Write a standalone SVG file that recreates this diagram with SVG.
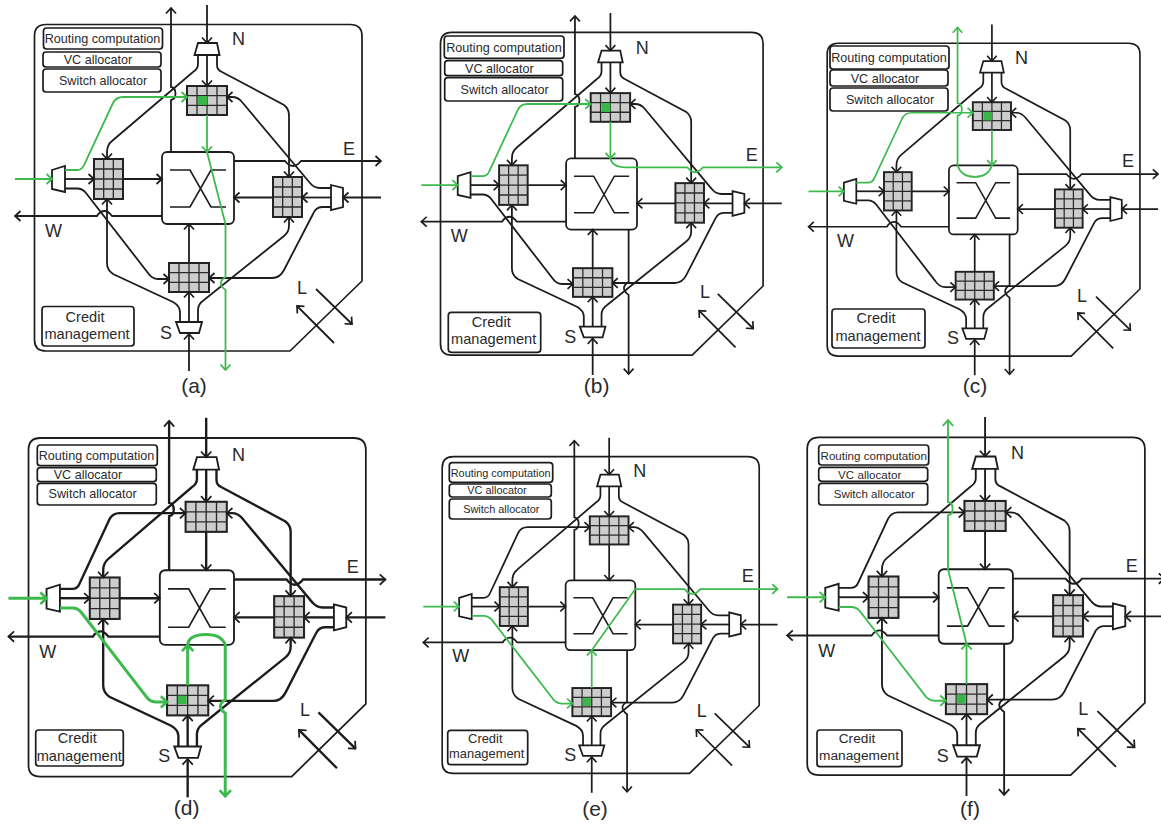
<svg xmlns="http://www.w3.org/2000/svg" width="1161" height="824" viewBox="0 0 1161 824">
<style>
text{font-family:"Liberation Sans",Arial,sans-serif;fill:#2a2a2a}
.box{fill:#fff;stroke:#1c1c1c;stroke-width:1.7}
.frame{fill:none;stroke:#1c1c1c;stroke-width:1.7}
.mux{fill:#fff;stroke:#1c1c1c;stroke-width:1.8}
.xb{fill:#fff;stroke:#1c1c1c;stroke-width:1.8}
.xl{fill:none;stroke:#1c1c1c;stroke-width:1.6}
.cell{fill:#cdcdcd;stroke:#222;stroke-width:2}
.cl{fill:none;stroke:#2a2a2a;stroke-width:1.3}
.dot{fill:#39b54a}
.links{fill:none}
.k{stroke:#1c1c1c;marker-end:url(#ak)}
.g{stroke:#3dba4e;marker-end:url(#ag)}
.links{stroke-width:1.8}
.thick .frame,.thick .mux,.thick .xb{stroke-width:2.2}
.thick .cell{stroke-width:2.4}
.thick .links{stroke-width:2.3}
.thick .g{stroke-width:2.9;marker-end:url(#agd)}
.rc{font-size:12.6px;text-anchor:middle}
.cr{font-size:14.6px;text-anchor:middle}
.rcs{font-size:10.9px;text-anchor:middle}
.crs{font-size:12.9px;text-anchor:middle}
.rcf{font-size:11.6px;text-anchor:middle}
.crf{font-size:13.7px;text-anchor:middle}
.dir{font-size:18px}
.cap{font-size:21px;text-anchor:middle}
</style>
<defs>
<marker id="ak" viewBox="-7 -6.5 10 13" refX="0" refY="0" markerWidth="10" markerHeight="13" markerUnits="userSpaceOnUse" orient="auto"><path d="M-5.5,-5 L0,0 L-5.5,5" fill="none" stroke="#1c1c1c" stroke-width="1.7"/></marker>
<marker id="ag" viewBox="-7 -6.5 10 13" refX="0" refY="0" markerWidth="10" markerHeight="13" markerUnits="userSpaceOnUse" orient="auto"><path d="M-5.5,-5 L0,0 L-5.5,5" fill="none" stroke="#3dba4e" stroke-width="1.8"/></marker>
<marker id="agd" viewBox="-8 -7 12 14" refX="0" refY="0" markerWidth="12" markerHeight="14" markerUnits="userSpaceOnUse" orient="auto"><path d="M-6,-5.5 L0,0 L-6,5.5" fill="none" stroke="#3dba4e" stroke-width="2.6"/></marker>
<path id="s-frame" class="frame" d="M46,24.5 H350 Q362,24.5 362,36 V281 L290,351 H46 Q34.5,351 34.5,340 V36 Q34.5,24.5 46,24.5 Z"/>
<path id="s-mux-n" class="mux" d="M198,43 H217 L219.5,55 H194.5 Z"/>
<path id="s-mux-s" class="mux" d="M176,322 H202 L199,333 H180 Z"/>
<path id="s-mux-w" class="mux" d="M52,170 L65,166 V192 L52,189 Z"/>
<path id="s-mux-e" class="mux" d="M331,185 L343,188 V207 L331,210 Z"/>
<g id="s-grid-h"><rect class="cell" width="40" height="29"/><path class="cl" d="M10,0V29M20,0V29M30,0V29M0,9.67H40M0,19.33H40"/></g>
<g id="s-grid-v"><rect class="cell" width="29" height="40"/><path class="cl" d="M9.67,0V40M19.33,0V40M0,10H29M0,20H29M0,30H29"/></g>
<g id="s-xbar"><rect class="xb" x="162" y="152" width="72" height="72" rx="5"/><path class="xl" d="M170,170 H190 L211,207 H226 M170,207 H190 L211,170 H226"/></g>
<g id="links-common">
<path d="M65,179 H94"/><path d="M123,179 H162"/><path d="M331,197.5 H302"/><path d="M273,197.5 H234"/>
<path d="M189,322 V292"/><path d="M207,55 V86"/>
<path d="M207,5 V43"/><path d="M189,371 V334"/><path d="M381,197.5 H343"/>
<path d="M198,55 V64 Q198,69 193,72 L112,141 Q107,145 107,152 V159"/>
<path d="M217,55 V65 Q217,70 222,72 L284,105 Q289,109 289,115 V177"/>
<path d="M331,188 H320 Q314,188 310,183 L242,102 Q238,97 232,97 H227"/>
<path d="M331,207 H322 Q316,207 313,214 L284,270 Q280,278 272,278 H209"/>
<path d="M180,322 V312 Q180,306 173,302 L113,274 Q107,270 107,263 V199"/>
<path d="M198,322 V310 Q198,304 204,300 L284,236 Q289,232 289,226 V217"/>
<path d="M162,216 H112 Q108,211 105,211 Q100,211 97,216 H15"/>
<path d="M316,289 L352,324"/><path d="M334,343 L297,306"/>
</g>
<path id="p-win" d="M15,179 H52"/>
<path id="p-wtop" d="M65,170 H77 Q82,170 84,165 L113,103 Q116,97 123,97 H187"/>
<path id="p-wbot" d="M65,188.5 H78 Q83,189 86,193 L148,273 Q152,279 158,279 H169"/>
<path id="p-ngx" d="M207,115 V152"/>
<path id="p-sgx" d="M189,263 V224"/>
<path id="p-up" d="M171,152 V100 C177,99 177,88 171,87 V8"/>
<path id="p-sout" d="M225.5,224 V277 Q216,283 225.5,290 V370"/>
<path id="p-eout" d="M234,161 H285 Q289,166 293,166 Q297,166 301,161 H381"/>
</defs>
<rect width="1161" height="824" fill="#fff"/>

<g id="panel-a">
<g id="a-router">
<g id="a-frame"><use href="#s-frame"/></g>
<g id="a-mux-n"><use href="#s-mux-n"/></g><g id="a-mux-s"><use href="#s-mux-s"/></g><g id="a-mux-w"><use href="#s-mux-w"/></g><g id="a-mux-e"><use href="#s-mux-e"/></g>
<g id="a-grid-n"><use href="#s-grid-h" x="187" y="86"/><rect class="dot" x="198" y="96" width="9" height="9"/></g>
<g id="a-grid-s"><use href="#s-grid-h" x="169" y="263"/></g>
<g id="a-grid-w"><use href="#s-grid-v" x="94" y="159"/></g>
<g id="a-grid-e"><use href="#s-grid-v" x="273" y="177"/></g>
<g id="a-crossbar"><use href="#s-xbar"/></g>
<g id="a-connectors" class="links">
<use href="#links-common" class="k"/>
<use href="#p-wbot" class="k"/><use href="#p-sgx" class="k"/><use href="#p-up" class="k"/><use href="#p-eout" class="k"/>
<use href="#p-win" class="g"/><use href="#p-wtop" class="g"/><use href="#p-ngx" class="g"/>
<path class="g" d="M207,152 L225.5,224 V277 Q216,283 225.5,290 V370"/>
</g>
</g>
<g id="a-routing"><rect class="box" x="43.5" y="28" width="119" height="21" rx="3"/><text class="rc" x="102.5" y="43">Routing computation</text></g>
<g id="a-vc"><rect class="box" x="43" y="52" width="118" height="15" rx="3"/><text class="rc" x="98" y="64">VC allocator</text></g>
<g id="a-switch"><rect class="box" x="43" y="69" width="118" height="23" rx="3"/><text class="rc" x="103" y="85">Switch allocator</text></g>
<g id="a-credit"><rect class="box" x="42" y="306.5" width="92" height="39.5" rx="3"/><text class="cr" x="85" y="322">Credit</text><text class="cr" x="87" y="338.5">management</text></g>
<text class="dir" x="232" y="45">N</text><text class="dir" x="343" y="155">E</text><text class="dir" x="45" y="237">W</text><text class="dir" x="160" y="339">S</text><text class="dir" x="297" y="294">L</text>
<text class="cap" x="194" y="393">(a)</text>
</g>

<g id="panel-b">
<g id="b-router" transform="translate(406.51 8.07) scale(.985 .989)">
<g id="b-frame"><use href="#s-frame"/></g>
<g id="b-mux-n"><use href="#s-mux-n"/></g><g id="b-mux-s"><use href="#s-mux-s"/></g><g id="b-mux-w"><use href="#s-mux-w"/></g><g id="b-mux-e"><use href="#s-mux-e"/></g>
<g id="b-grid-n"><use href="#s-grid-h" x="187" y="86"/><rect class="dot" x="198" y="96" width="9" height="9"/></g>
<g id="b-grid-s"><use href="#s-grid-h" x="169" y="263"/></g>
<g id="b-grid-w"><use href="#s-grid-v" x="94" y="159"/></g>
<g id="b-grid-e"><use href="#s-grid-v" x="273" y="177"/></g>
<g id="b-crossbar"><use href="#s-xbar"/></g>
<g id="b-connectors" class="links">
<use href="#links-common" class="k"/>
<use href="#p-wbot" class="k"/><use href="#p-sgx" class="k"/><use href="#p-up" class="k"/><use href="#p-sout" class="k"/>
<use href="#p-win" class="g"/><use href="#p-wtop" class="g"/><use href="#p-ngx" class="g"/>
<path class="g" d="M207,152 Q209,161 222,161 H285 Q289,166 293,166 Q297,166 301,161 H381"/>
</g>
</g>
<g id="b-routing"><rect class="box" x="444.3" y="36" width="119.7" height="22.3" rx="3"/><text class="rc" x="504" y="52.3">Routing computation</text></g>
<g id="b-vc"><rect class="box" x="444.7" y="60.7" width="118" height="15" rx="3"/><text class="rc" x="499.3" y="73">VC allocator</text></g>
<g id="b-switch"><rect class="box" x="444.7" y="77.7" width="118" height="23.3" rx="3"/><text class="rc" x="504.7" y="94">Switch allocator</text></g>
<g id="b-credit"><rect class="box" x="448.3" y="312.3" width="92.4" height="40" rx="3"/><text class="cr" x="491.3" y="326.7">Credit</text><text class="cr" x="493.7" y="344.3">management</text></g>
<text class="dir" x="635.7" y="54">N</text><text class="dir" x="745.7" y="161">E</text><text class="dir" x="450.7" y="242.3">W</text><text class="dir" x="564.3" y="343.3">S</text><text class="dir" x="700" y="297.7">L</text>
<text class="cap" x="596.7" y="393">(b)</text>
</g>

<g id="panel-c">
<g id="c-router" transform="translate(794.23 19.83) scale(.955 .958)">
<g id="c-frame"><use href="#s-frame"/></g>
<g id="c-mux-n"><use href="#s-mux-n"/></g><g id="c-mux-s"><use href="#s-mux-s"/></g><g id="c-mux-w"><use href="#s-mux-w"/></g><g id="c-mux-e"><use href="#s-mux-e"/></g>
<g id="c-grid-n"><use href="#s-grid-h" x="187" y="86"/><rect class="dot" x="198" y="96" width="9" height="9"/></g>
<g id="c-grid-s"><use href="#s-grid-h" x="169" y="263"/></g>
<g id="c-grid-w"><use href="#s-grid-v" x="94" y="159"/></g>
<g id="c-grid-e"><use href="#s-grid-v" x="273" y="177"/></g>
<g id="c-crossbar"><use href="#s-xbar"/></g>
<g id="c-connectors" class="links">
<use href="#links-common" class="k"/>
<use href="#p-wbot" class="k"/><use href="#p-sgx" class="k"/><use href="#p-eout" class="k"/><use href="#p-sout" class="k"/>
<use href="#p-win" class="g"/><use href="#p-wtop" class="g"/><use href="#p-ngx" class="g"/>
<path class="g" d="M207,152 Q203,164 189,164 Q175,164 171,152 V100 C177,99 177,88 171,87 V8"/>
</g>
</g>
<g id="c-routing"><rect class="box" x="830" y="46" width="119" height="23" rx="3"/><text class="rc" x="889" y="62">Routing computation</text></g>
<g id="c-vc"><rect class="box" x="830" y="70" width="118" height="16" rx="3"/><text class="rc" x="885" y="83">VC allocator</text></g>
<g id="c-switch"><rect class="box" x="830" y="88" width="118" height="23" rx="3"/><text class="rc" x="890" y="104">Switch allocator</text></g>
<g id="c-credit"><rect class="box" x="832" y="309" width="93" height="39" rx="3"/><text class="cr" x="876" y="323">Credit</text><text class="cr" x="878" y="341">management</text></g>
<text class="dir" x="1015" y="64">N</text><text class="dir" x="1122" y="167">E</text><text class="dir" x="837" y="247">W</text><text class="dir" x="947" y="344">S</text><text class="dir" x="1077" y="302">L</text>
<text class="cap" x="975" y="393">(c)</text>
</g>

<g id="panel-d" class="thick">
<g id="d-router" transform="translate(-7.02 412.59) scale(1.03 1.037)">
<g id="d-frame"><use href="#s-frame"/></g>
<g id="d-mux-n"><use href="#s-mux-n"/></g><g id="d-mux-s"><use href="#s-mux-s"/></g><g id="d-mux-w"><use href="#s-mux-w"/></g><g id="d-mux-e"><use href="#s-mux-e"/></g>
<g id="d-grid-n"><use href="#s-grid-h" x="187" y="86"/></g>
<g id="d-grid-s"><use href="#s-grid-h" x="169" y="263"/><rect class="dot" x="179.5" y="273" width="8.5" height="8"/></g>
<g id="d-grid-w"><use href="#s-grid-v" x="94" y="159"/></g>
<g id="d-grid-e"><use href="#s-grid-v" x="273" y="177"/></g>
<g id="d-crossbar"><use href="#s-xbar"/></g>
<g id="d-connectors" class="links">
<use href="#links-common" class="k"/>
<use href="#p-wtop" class="k"/><use href="#p-ngx" class="k"/><use href="#p-up" class="k"/><use href="#p-eout" class="k"/>
<use href="#p-win" class="g"/><use href="#p-wbot" class="g"/><use href="#p-sgx" class="g"/>
<path class="g" d="M189,224 Q190,214 207,214 Q222,214 225.5,224 V277 Q216,283 225.5,290 V370"/>
</g>
</g>
<g id="d-routing"><rect class="box" x="37.3" y="445" width="120" height="20.7" rx="3"/><text class="rc" x="96.5" y="460">Routing computation</text></g>
<g id="d-vc"><rect class="box" x="37.3" y="467.7" width="119" height="14" rx="3"/><text class="rc" x="88" y="479">VC allocator</text></g>
<g id="d-switch"><rect class="box" x="37.3" y="483.3" width="119" height="21.7" rx="3"/><text class="rc" x="92.7" y="498.3">Switch allocator</text></g>
<g id="d-credit"><rect class="box" x="35.7" y="730" width="87.6" height="36" rx="3"/><text class="cr" x="77.3" y="742.7">Credit</text><text class="cr" x="79.3" y="761">management</text></g>
<text class="dir" x="232" y="460.7">N</text><text class="dir" x="346.7" y="572.7">E</text><text class="dir" x="39.3" y="658.3">W</text><text class="dir" x="158.3" y="762.3">S</text><text class="dir" x="300" y="716">L</text>
<text class="cap" x="186.7" y="815">(d)</text>
</g>

<g id="panel-e">
<g id="e-router" transform="translate(408.79 432.93) scale(.968 .97)">
<g id="e-frame"><use href="#s-frame"/></g>
<g id="e-mux-n"><use href="#s-mux-n"/></g><g id="e-mux-s"><use href="#s-mux-s"/></g><g id="e-mux-w"><use href="#s-mux-w"/></g><g id="e-mux-e"><use href="#s-mux-e"/></g>
<g id="e-grid-n"><use href="#s-grid-h" x="187" y="86"/></g>
<g id="e-grid-s"><use href="#s-grid-h" x="169" y="263"/><rect class="dot" x="179.5" y="273" width="8.5" height="8.5"/></g>
<g id="e-grid-w"><use href="#s-grid-v" x="94" y="159"/></g>
<g id="e-grid-e"><use href="#s-grid-v" x="273" y="177"/></g>
<g id="e-crossbar"><use href="#s-xbar"/></g>
<g id="e-connectors" class="links">
<use href="#links-common" class="k"/>
<use href="#p-wtop" class="k"/><use href="#p-ngx" class="k"/><use href="#p-up" class="k"/><use href="#p-sout" class="k"/>
<use href="#p-win" class="g"/><use href="#p-wbot" class="g"/><use href="#p-sgx" class="g"/>
<path class="g" d="M189,224 L234,161 H285 Q289,166 293,166 Q297,166 301,161 H381"/>
</g>
</g>
<g id="e-routing"><rect class="box" x="449.3" y="462.7" width="103.4" height="19.6" rx="3"/><text class="rcs" x="500.7" y="477.3">Routing computation</text></g>
<g id="e-vc"><rect class="box" x="449.3" y="484" width="102" height="13" rx="3"/><text class="rcs" x="497" y="494">VC allocator</text></g>
<g id="e-switch"><rect class="box" x="449.3" y="499" width="102" height="20" rx="3"/><text class="rcs" x="501.3" y="513">Switch allocator</text></g>
<g id="e-credit"><rect class="box" x="447.7" y="730.3" width="80" height="34.4" rx="3"/><text class="crs" x="485.3" y="742.7">Credit</text><text class="crs" x="486.7" y="757.7">management</text></g>
<text class="dir" x="633.3" y="476.7">N</text><text class="dir" x="741.7" y="581.7">E</text><text class="dir" x="452.3" y="662.3">W</text><text class="dir" x="564.3" y="760.7">S</text><text class="dir" x="696.7" y="716.7">L</text>
<text class="cap" x="595" y="815.5">(e)</text>
</g>

<g id="panel-f">
<g id="f-router" transform="translate(771.65 411.94) scale(1.031 1.035)">
<g id="f-frame"><use href="#s-frame"/></g>
<g id="f-mux-n"><use href="#s-mux-n"/></g><g id="f-mux-s"><use href="#s-mux-s"/></g><g id="f-mux-w"><use href="#s-mux-w"/></g><g id="f-mux-e"><use href="#s-mux-e"/></g>
<g id="f-grid-n"><use href="#s-grid-h" x="187" y="86"/></g>
<g id="f-grid-s"><use href="#s-grid-h" x="169" y="263"/><rect class="dot" x="179.5" y="273" width="8.5" height="8.5"/></g>
<g id="f-grid-w"><use href="#s-grid-v" x="94" y="159"/></g>
<g id="f-grid-e"><use href="#s-grid-v" x="273" y="177"/></g>
<g id="f-crossbar"><use href="#s-xbar"/></g>
<g id="f-connectors" class="links">
<use href="#links-common" class="k"/>
<use href="#p-wtop" class="k"/><use href="#p-ngx" class="k"/><use href="#p-eout" class="k"/><use href="#p-sout" class="k"/>
<use href="#p-win" class="g"/><use href="#p-wbot" class="g"/><use href="#p-sgx" class="g"/>
<path class="g" d="M189,224 L171,152 V100 C177,99 177,88 171,87 V8"/>
</g>
</g>
<g id="f-routing"><rect class="box" x="818.7" y="445" width="110" height="20" rx="3"/><text class="rcf" x="873.7" y="460">Routing computation</text></g>
<g id="f-vc"><rect class="box" x="818.7" y="467.3" width="109" height="14" rx="3"/><text class="rcf" x="869.7" y="478.7">VC allocator</text></g>
<g id="f-switch"><rect class="box" x="818.7" y="483.3" width="109" height="21.7" rx="3"/><text class="rcf" x="874.3" y="498">Switch allocator</text></g>
<g id="f-credit"><rect class="box" x="817" y="730" width="85" height="36.7" rx="3"/><text class="crf" x="857" y="743.3">Credit</text><text class="crf" x="859" y="760">management</text></g>
<text class="dir" x="1011" y="459">N</text><text class="dir" x="1125.7" y="571.7">E</text><text class="dir" x="818.3" y="657.3">W</text><text class="dir" x="936.7" y="761.7">S</text><text class="dir" x="1078.3" y="715">L</text>
<text class="cap" x="970" y="816">(f)</text>
</g>
</svg>
